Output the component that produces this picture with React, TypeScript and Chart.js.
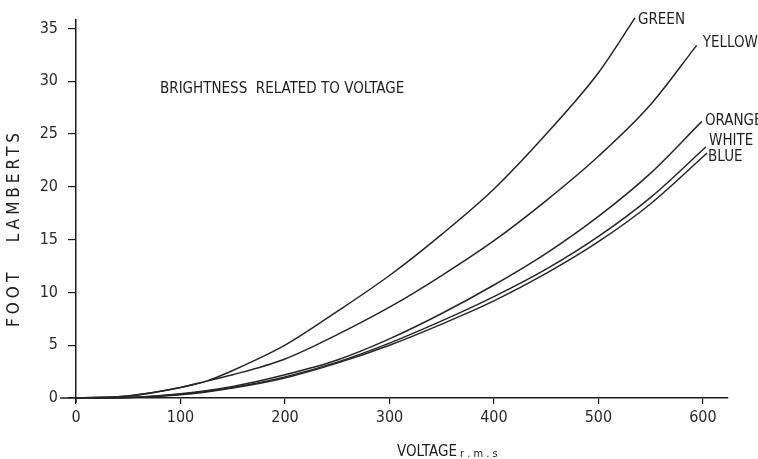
import React, { useEffect, useRef } from "react";
import { Chart, registerables } from "chart.js";

Chart.register(...registerables);

// Voltage (r.m.s) and brightness (foot lamberts)
const greenV = [0, 50, 100, 125, 150, 200, 250, 300, 350, 400, 450, 500, 535];
const greenF = [0, 0.2, 1.0, 1.6, 2.6, 5.0, 8.2, 11.6, 15.5, 19.8, 25.0, 30.8, 36.0];

const yellowV = [0, 50, 100, 125, 150, 200, 250, 300, 350, 400, 450, 500, 550, 594];
const yellowF = [0, 0.2, 1.0, 1.6, 2.2, 3.7, 6.0, 8.6, 11.6, 14.9, 18.7, 22.9, 27.8, 33.4];

const orangeV = [0, 50, 100, 150, 200, 250, 300, 350, 400, 450, 500, 550, 599];
const orangeF = [0, 0.05, 0.4, 1.1, 2.2, 3.6, 5.6, 8.0, 10.7, 13.7, 17.2, 21.3, 26.2];

const whiteV = [0, 50, 100, 150, 200, 250, 300, 350, 400, 450, 500, 550, 603];
const whiteF = [0, 0.05, 0.35, 1.0, 2.0, 3.4, 5.2, 7.3, 9.6, 12.2, 15.3, 19.0, 23.8];

const blueV = [0, 50, 100, 150, 200, 250, 300, 350, 400, 450, 500, 550, 604];
const blueF = [0, 0.05, 0.3, 0.95, 1.9, 3.3, 5.0, 7.0, 9.2, 11.8, 14.8, 18.4, 23.2];

const seriesNames = ["GREEN", "YELLOW", "ORANGE", "WHITE", "BLUE"];
const seriesV = [greenV, yellowV, orangeV, whiteV, blueV];
const seriesF = [greenF, yellowF, orangeF, whiteF, blueF];
// label offsets (px) from each curve's end
const labelDx = [3, 6, 3, 3, 1];
const labelDy = [2, -2, 0, -6, 4];

const xTicks = [0, 100, 200, 300, 400, 500, 600];
const yTicks = [0, 5, 10, 15, 20, 25, 30, 35];

const chartTitle = "BRIGHTNESS  RELATED TO VOLTAGE";
const xTitle = "VOLTAGE";
const xTitleSuffix = "r.m.s";
const yTitle = "FOOT   LAMBERTS";

const FONT = "'Liberation Sans Narrow', 'DejaVu Sans Condensed', 'Liberation Sans', sans-serif";
const INK = "#1e1e1e";

const decorPlugin = {
  id: "decor",
  afterDatasetsDraw(chart: any) {
    const { ctx, chartArea, scales } = chart;
    const x = scales.x;
    const y = scales.y;
    ctx.save();
    // axis extensions
    ctx.strokeStyle = INK;
    ctx.lineWidth = 1.5;
    ctx.beginPath();
    ctx.moveTo(chartArea.left - 16, chartArea.bottom);
    ctx.lineTo(chartArea.left, chartArea.bottom);
    ctx.moveTo(chartArea.left, chartArea.bottom);
    ctx.lineTo(chartArea.left, chartArea.bottom + 5);
    ctx.stroke();

    ctx.fillStyle = INK;
    ctx.textBaseline = "middle";
    ctx.textAlign = "left";
    ctx.font = `15px ${FONT}`;
    seriesNames.forEach((name, i) => {
      const v = seriesV[i];
      const f = seriesF[i];
      const px = x.getPixelForValue(v[v.length - 1]) + labelDx[i];
      const py = y.getPixelForValue(f[f.length - 1]) + labelDy[i];
      ctx.fillText(name, px, py);
    });

    // chart title
    ctx.font = `15px ${FONT}`;
    ctx.fillText(chartTitle, chartArea.left + 84, chartArea.top + 69);

    // x title
    ctx.font = `15px ${FONT}`;
    const tx = chartArea.left + 321;
    const ty = chartArea.bottom + 54;
    ctx.fillText(xTitle, tx, ty);
    const w = ctx.measureText(xTitle).width;
    ctx.font = `11px ${FONT}`;
    ctx.fillText(xTitleSuffix.split("").join(" "), tx + w + 3, ty + 2);

    // y title
    ctx.font = `17px ${FONT}`;
    try {
      (ctx as any).letterSpacing = "4px";
    } catch (e) {}
    ctx.translate(15, (chartArea.top + chartArea.bottom) / 2 + 19);
    ctx.rotate(-Math.PI / 2);
    ctx.textAlign = "center";
    ctx.fillText(yTitle, 0, 0);
    ctx.restore();
  },
};

export default function App() {
  const ref = useRef<HTMLCanvasElement | null>(null);

  useEffect(() => {
    document.body.style.margin = "0";
    const canvas = ref.current;
    if (!canvas) return;
    const datasets = seriesNames.map((name, i) => ({
      label: name,
      data: seriesV[i].map((v, j) => ({ x: v, y: seriesF[i][j] })),
      borderColor: "#262626",
      borderWidth: 1.5,
      pointRadius: 0,
      fill: false,
      cubicInterpolationMode: "monotone" as const,
      clip: false as any,
    }));

    const chart = new Chart(canvas, {
      type: "line",
      data: { datasets },
      plugins: [decorPlugin],
      options: {
        animation: false,
        responsive: true,
        maintainAspectRatio: false,
        layout: { padding: { left: 0, top: 20, right: 30, bottom: 0 } },
        plugins: {
          legend: { display: false },
          tooltip: { enabled: false },
          title: { display: false },
        },
        scales: {
          x: {
            type: "linear",
            min: 0,
            max: 624,
            afterFit: (s: any) => {
              s.height = 61;
            },
            afterBuildTicks: (s: any) => {
              s.ticks = xTicks.map((v) => ({ value: v }));
            },
            grid: {
              display: true,
              drawOnChartArea: false,
              drawTicks: true,
              tickLength: 6,
              color: INK,
              lineWidth: 1.2,
            },
            border: { display: true, color: INK, width: 1.5 },
            ticks: {
              color: "#2a2a2a",
              padding: 4,
              font: { family: FONT, size: 16 },
              maxRotation: 0,
              autoSkip: false,
            },
          },
          y: {
            type: "linear",
            min: 0,
            max: 35.8,
            afterFit: (s: any) => {
              s.width = 76;
            },
            afterBuildTicks: (s: any) => {
              s.ticks = yTicks.map((v) => ({ value: v }));
            },
            grid: {
              display: true,
              drawOnChartArea: false,
              drawTicks: true,
              tickLength: 8,
              color: INK,
              lineWidth: 1.2,
            },
            border: { display: true, color: INK, width: 1.5 },
            ticks: {
              color: "#2a2a2a",
              padding: 10,
              font: { family: FONT, size: 16 },
              autoSkip: false,
            },
          },
        },
      },
    });
    return () => chart.destroy();
  }, []);

  return (
    <div style={{ width: 758, height: 459, position: "relative", background: "#fff" }}>
      <canvas ref={ref} />
    </div>
  );
}
